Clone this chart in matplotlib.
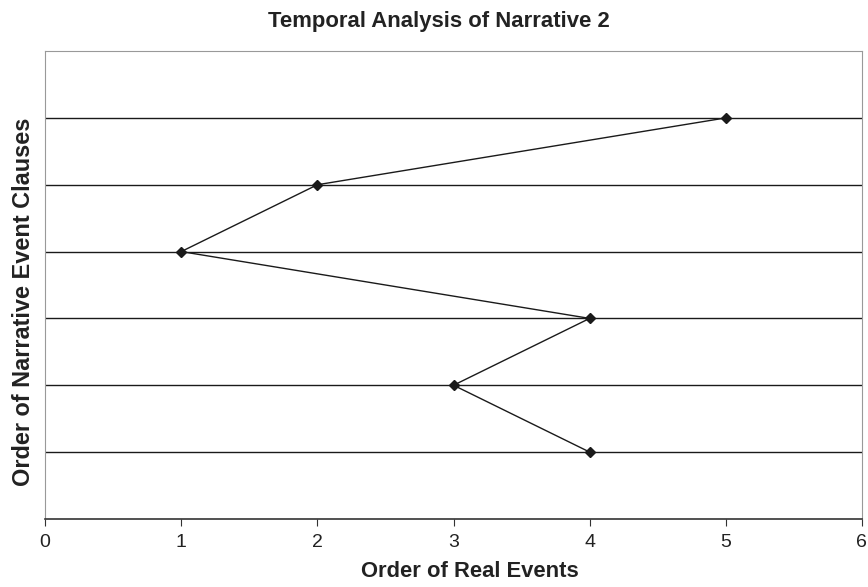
import matplotlib.pyplot as plt

plt.rcParams['font.family'] = ['Liberation Sans', 'DejaVu Sans']

real_order = [4, 3, 4, 1, 2, 5]
clause_order = [1, 2, 3, 4, 5, 6]
x_ticks = [0, 1, 2, 3, 4, 5, 6]

fig = plt.figure(figsize=(8.68, 5.87), dpi=100)
ax = fig.add_axes([0.052, 0.116, 0.941, 0.797])

for y in clause_order:
    ax.axhline(y, color='#1a1a1a', linewidth=1.0, zorder=1)

ax.plot(real_order, clause_order, color='#1a1a1a', linewidth=1.0,
        marker='D', markersize=5, zorder=3)

ax.set_xlim(0, 6)
ax.set_ylim(0, 7)
ax.set_xticks(x_ticks)
ax.set_yticks([])
ax.tick_params(axis='x', labelsize=14, length=5, direction='out', color='#333333',
               pad=6, labelcolor='#222222')

for side in ['left', 'top', 'right']:
    ax.spines[side].set_color('#999999')
ax.spines['bottom'].set_color('#333333')
ax.spines['bottom'].set_linewidth(1.2)

ax.set_title('Temporal Analysis of Narrative 2', fontsize=15.9, fontweight='bold',
             pad=17, color='#222222', x=0.482)
ax.set_xlabel('Order of Real Events', fontsize=15.8, fontweight='bold',
              color='#222222')
ax.xaxis.set_label_coords(0.52, -0.09)
ax.set_ylabel('Order of Narrative Event Clauses', fontsize=16.9, fontweight='bold',
              labelpad=7, color='#222222')
ax.yaxis.label.set_y(0.465)

fig.savefig('out.png', dpi=100)
